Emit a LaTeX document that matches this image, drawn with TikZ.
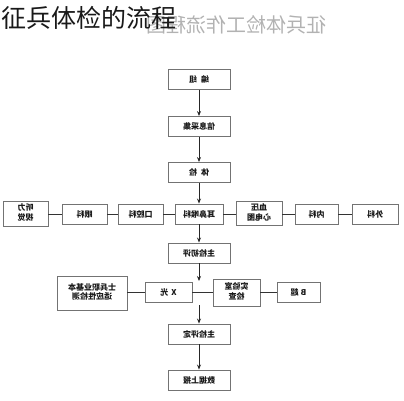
\documentclass[tikz,border=0pt]{standalone}
\usepackage{fontspec}
\newfontfamily\cjk{Noto Sans CJK SC}
\usetikzlibrary{arrows.meta}
\newcommand{\mirtxt}[1]{\reflectbox{#1}}
\newcommand{\twol}[2]{\reflectbox{\begin{tabular}{@{}c@{}}#1\\#2\end{tabular}}}
\begin{document}
\begin{tikzpicture}[x=1pt,y=-1pt,
  bx/.style={draw=black!55, line width=0.9pt, fill=white, inner sep=0pt,
    font=\cjk\bfseries\fontsize{8}{9}\selectfont, text=black!90},
  main/.style={bx, minimum width=62pt, minimum height=20pt},
  side/.style={bx, minimum width=45pt, minimum height=20pt},
  arr/.style={-{Stealth[length=5pt,width=4pt]}, line width=0.8pt, black!85},
  ln/.style={line width=0.8pt, black!80}]
\useasboundingbox (0,0) rectangle (404,400);
% watermark and title
\node[font=\cjk\fontsize{20}{20}\selectfont, text=black!30, inner sep=0pt] (wm) at (236,25) {\mirtxt{征兵体检工作流程图}};
\node[font=\cjk\fontsize{25}{25}\selectfont, text=black!90, anchor=west, inner sep=0pt] (title) at (1,18) {征兵体检的流程};
% main column
\node[main] (bz) at (199,79.5) {\mirtxt{编\hspace{4pt}组}};
\node[main] (xx) at (199,126.5) {\mirtxt{信息采集}};
\node[main] (tj) at (199,172.5) {\mirtxt{体\hspace{4pt}检}};
\node[side, minimum width=48pt] (ebh) at (199,214) {\mirtxt{耳鼻喉科}};
\node[side, minimum height=25pt] (tl) at (25.5,213.5) {\twol{听力}{视觉}};
\node[side] (yk) at (84.5,214) {\mirtxt{眼科}};
\node[side] (kq) at (140.5,214) {\mirtxt{口腔科}};
\node[side, minimum width=46pt, minimum height=24pt] (xy) at (259,213.5) {\twol{血压}{心电图}};
\node[side, minimum width=43pt] (nk) at (316.5,214) {\mirtxt{内科}};
\node[side, minimum width=46pt] (wk) at (375,214) {\mirtxt{外科}};
\node[main] (zc) at (199,253) {\mirtxt{主检初评}};
\node[bx, minimum width=70pt, minimum height=34pt] (sb) at (92,293) {\twol{士兵职业基本}{适应性检测}};
\node[side, minimum width=47pt] (xg) at (168.5,292) {\mirtxt{X\hspace{3pt}光}};
\node[side, minimum width=47pt, minimum height=27pt] (sy) at (236.5,292.5) {\twol{实验室}{检查}};
\node[side, minimum width=43pt] (bc) at (298.5,292) {\mirtxt{B\hspace{2pt}超}};
\node[main] (zd) at (199,334) {\mirtxt{主检评定}};
\node[main] (sj) at (199,380) {\mirtxt{数据上报}};
\coordinate (c1) at (199,281);
\coordinate (c2) at (199,305);
% connectors
\draw[arr] (bz) -- (xx);
\draw[arr] (xx) -- (tj);
\draw[arr] (tj) -- (ebh);
\draw[arr] (ebh) -- (zc);
\draw[arr] (zc) -- (c1);
\draw[arr] (c2) -- (zd);
\draw[arr] (zd) -- (sj);
\draw[ln] (tl.east |- yk) -- (yk);
\draw[ln] (yk) -- (kq);
\draw[ln] (kq) -- (ebh);
\draw[ln] (ebh) -- (xy.west |- ebh);
\draw[ln] (xy.east |- nk) -- (nk);
\draw[ln] (nk) -- (wk);
\draw[ln] (sb.east |- xg) -- (xg);
\draw[ln] (xg) -- (sy.west |- xg);
\draw[ln] (sy.east |- bc) -- (bc);
\end{tikzpicture}
\end{document}
